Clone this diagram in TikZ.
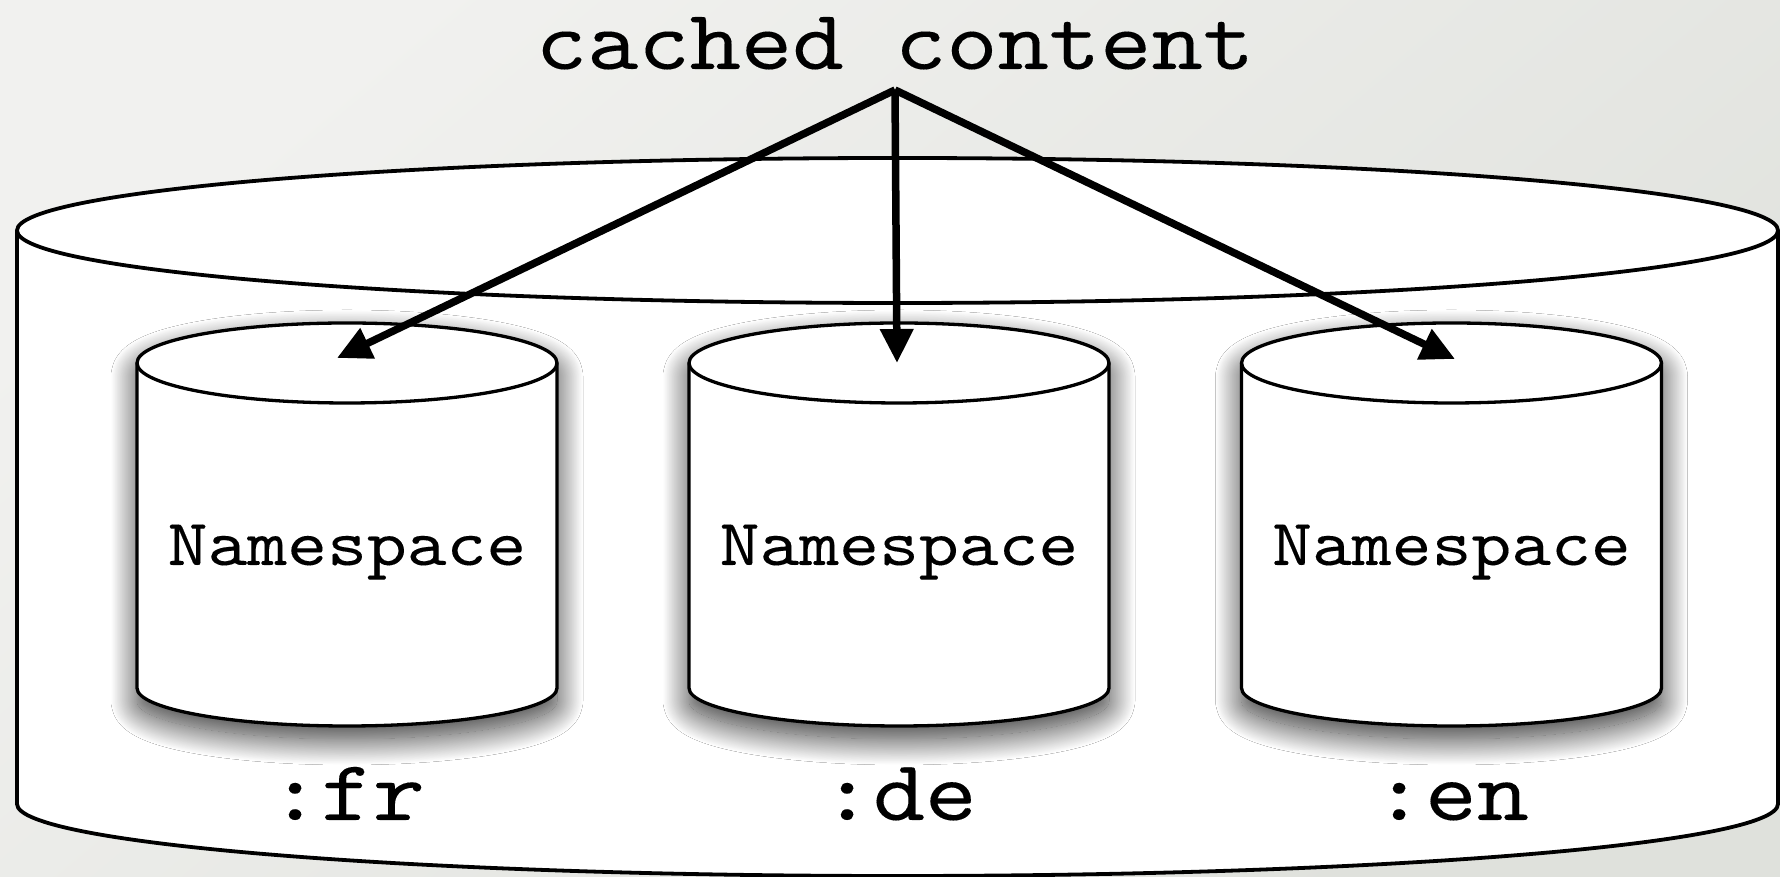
\documentclass[tikz,border=0pt]{standalone}
\usepackage{fontspec}
\newfontfamily\mono[FakeStretch=1.15,FakeBold=0.12]{lmmono10-regular.otf}
\usetikzlibrary{arrows.meta,shadows.blur}

\definecolor{bgTL}{HTML}{F1F1EF}
\definecolor{bgBR}{HTML}{DFE1DC}

% cylinder: #1 centre x, #2 top-ellipse centre y, #3 bottom-ellipse centre y,
% #4 half width, #5 top half height, #6 bottom half height, #7 outline style
\newcommand\drawcyl[7]{%
  \path[#7] (#1-#4,#2) arc[start angle=180,end angle=0,x radius=#4,y radius=#5]
    -- (#1+#4,#3) arc[start angle=0,end angle=-180,x radius=#4,y radius=#6] -- cycle;
}
\newcommand\cylrim[5]{%
  \draw[#5] (#1-#3,#2) arc[start angle=180,end angle=360,x radius=#3,y radius=#4];
}

\begin{document}
\begin{tikzpicture}[x=1pt,y=1pt,
  outer/.style={draw=black,fill=white,line width=3.8pt},
  inner/.style={draw=black,fill=white,line width=3.3pt},
  rimline/.style={draw=black,line width=3.3pt},
  innershadow/.style={inner,blur shadow={shadow xshift=0pt,shadow yshift=-13pt,
      shadow blur radius=26pt,shadow opacity=80,shadow blur steps=40}},
  feed/.style={line width=7.5pt,-{Triangle[length=34pt,width=32pt,fill=black]}},
  title/.style={font=\mono\fontsize{85}{100}\selectfont,inner sep=0pt,anchor=base},
  nslabel/.style={font=\mono\fontsize{66}{80}\selectfont,inner sep=0pt,anchor=base},
  langlabel/.style={font=\mono\fontsize{86}{100}\selectfont,inner sep=0pt,anchor=base}]

\useasboundingbox (0,0) rectangle (1780,877);
\shade[shading=axis,top color=bgTL,bottom color=bgBR,shading angle=40] (0,0) rectangle (1780,877);

% outer store
\drawcyl{897.5}{646.5}{73}{880.5}{72.5}{72}{outer}
\cylrim{897.5}{646.5}{880.5}{72.5}{outer,fill=none}

% namespace stores
\drawcyl{347}{514}{189}{210}{40}{38}{innershadow}
\drawcyl{899}{514}{189}{210}{40}{38}{innershadow}
\drawcyl{1451.5}{514}{189}{210}{40}{38}{innershadow}
\cylrim{347}{514}{210}{40}{rimline}
\cylrim{899}{514}{210}{40}{rimline}
\cylrim{1451.5}{514}{210}{40}{rimline}

% texts
\node[title] (cached) at (895,808) {cached content};
\node[nslabel] (nsfr) at (347,312) {Namespace};
\node[nslabel] (nsde) at (899,312) {Namespace};
\node[nslabel] (nsen) at (1451.5,312) {Namespace};
\node[langlabel] (fr) at (347,57) {:fr};
\node[langlabel] (de) at (899,57) {:de};
\node[langlabel] (en) at (1451,57) {:en};

% arrows into the stores
\coordinate (src) at (895,787);
\coordinate (topfr) at (337,519);
\coordinate (topde) at (897,514);
\coordinate (topen) at (1455,518);
\draw[feed] (src) -- (topfr);
\draw[feed] (src) -- (topde);
\draw[feed] (src) -- (topen);
\end{tikzpicture}
\end{document}
